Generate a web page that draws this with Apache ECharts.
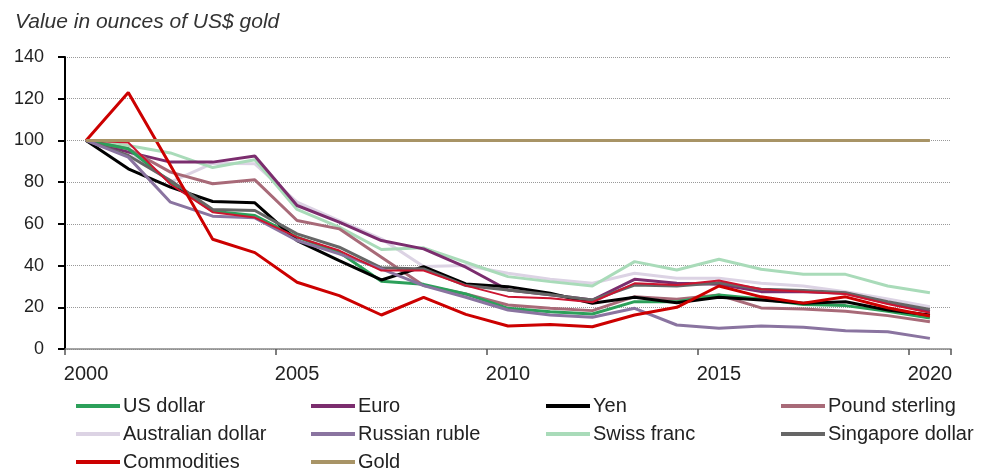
<!DOCTYPE html>
<html>
<head>
<meta charset="utf-8">
<script src="https://cdn.jsdelivr.net/npm/echarts@6/dist/echarts.min.js"></script>
<style>
  html, body { margin: 0; padding: 0; background: #fff; }
  #chart { width: 990px; height: 468px; }
</style>
</head>
<body>
<div id="chart"></div>
<script>
  var years = ['2000', '2001', '2002', '2003', '2004', '2005', '2006', '2007', '2008', '2009', '2010',
    '2011', '2012', '2013', '2014', '2015', '2016', '2017', '2018', '2019', '2020'];

  var usDollar    = [100, 96, 80, 66, 64, 53.6, 46.4, 32.5, 31, 26.4, 19.5, 17.9, 16.8, 22.7, 22.7, 25.9, 24, 21.3, 20.8, 18.1, 14.9];
  var euro        = [100, 94.4, 89.6, 89.6, 92.5, 68.8, 60.8, 52, 48, 39.2, 28.3, 26, 23.5, 33.4, 31.5, 31, 27.5, 27.5, 26.7, 22, 18];
  var yen         = [100, 86.4, 77.6, 70.7, 70.1, 52, 42.4, 33.1, 39.5, 31.2, 29.9, 26.7, 21.9, 24.8, 22.2, 24.8, 23.5, 21.9, 22.7, 18.7, 16.3];
  var pound       = [100, 96, 84.8, 79.2, 81.1, 61.6, 57.6, 44, 30.4, 26.4, 21.1, 19.5, 18.4, 25.1, 23.8, 25.9, 19.7, 19.2, 18.1, 16, 13.1];
  var audollar    = [100, 95, 80, 89, 88.8, 70.4, 61.6, 52.8, 39.5, 40, 36.3, 33.4, 31.5, 36.3, 33.9, 33.9, 31.5, 30.2, 27.5, 24, 20.3];
  var ruble       = [100, 92, 70.4, 63.7, 62.9, 52, 45.6, 38.4, 30.4, 24.8, 18.7, 16.3, 15.2, 19.5, 11.5, 9.9, 11, 10.4, 8.8, 8.3, 5.1];
  var swissFranc  = [100, 97.6, 94, 87, 90.7, 66.9, 58.4, 47.7, 48.5, 41.6, 34.7, 32.3, 30.2, 41.9, 37.9, 43, 38.2, 35.8, 35.8, 30.2, 27];
  var sgdollar    = [100, 92.8, 80.8, 66.9, 66.4, 55.2, 48.8, 38.9, 38.4, 30.4, 28.3, 26, 23.5, 30.7, 30.2, 31.8, 28.6, 28, 27, 22.7, 19];
  var commodities = [100, 123, 88, 52.6, 46.2, 32, 25.6, 16.3, 24.8, 16.6, 11, 11.7, 10.7, 16.3, 20, 30.2, 25, 22, 25, 19.8, 15.8];
  var gold        = [100, 100, 100, 100, 100, 100, 100, 100, 100, 100, 100, 100, 100, 100, 100, 100, 100, 100, 100, 100, 100];
  // thin red line in the bundle, not in the legend
  var otherRed    = [100, 99, 79, 65.6, 63, 53.6, 47.2, 37.6, 37.6, 30.4, 25.1, 24.3, 22.4, 31.5, 30.7, 32.8, 28.6, 27.5, 26.4, 21.6, 17.4];

  var legendNames = ['US dollar', 'Euro', 'Yen', 'Pound sterling', 'Australian dollar', 'Russian ruble',
    'Swiss franc', 'Singapore dollar', 'Commodities', 'Gold'];

  function line(name, data, color, width) {
    return {
      name: name,
      type: 'line',
      data: data,
      symbol: 'none',
      smooth: false,
      lineStyle: { color: color, width: width },
      itemStyle: { color: color }
    };
  }

  var chart = echarts.init(document.getElementById('chart'));
  var option = {
    animation: false,
    title: {
      text: 'Value in ounces of US$ gold',
      left: 10,
      top: 7,
      textStyle: {
        fontFamily: 'Liberation Sans, Arial, sans-serif',
        fontStyle: 'italic',
        fontWeight: 'normal',
        fontSize: 21,
        color: '#333'
      }
    },
    legend: {
      data: legendNames,
      left: 71,
      top: 387,
      width: 960,
      itemGap: 0,
      itemWidth: 44,
      itemHeight: 4,
      icon: 'rect',
      textStyle: {
        fontFamily: 'Liberation Sans, Arial, sans-serif',
        fontSize: 20,
        color: '#222',
        width: 188,
        lineHeight: 28,
        padding: [0, 0, 0, -2]
      }
    },
    grid: {
      left: 65,
      right: 39,
      top: 57,
      bottom: 119
    },
    xAxis: {
      type: 'category',
      data: years,
      boundaryGap: true,
      axisLine: { lineStyle: { color: '#888', width: 1.5 } },
      axisTick: { show: true, interval: 4, length: 6, lineStyle: { color: '#555', width: 1.5 } },
      axisLabel: {
        interval: 4,
        margin: 15,
        fontFamily: 'Liberation Sans, Arial, sans-serif',
        fontSize: 20,
        color: '#222'
      }
    },
    yAxis: {
      type: 'value',
      min: 0,
      max: 140,
      interval: 20,
      axisLine: { show: true, lineStyle: { color: '#000', width: 2 } },
      axisTick: { show: true, length: 7, lineStyle: { color: '#000', width: 2 } },
      axisLabel: {
        margin: 21,
        fontFamily: 'Liberation Sans, Arial, sans-serif',
        fontSize: 18,
        color: '#222'
      },
      splitLine: { lineStyle: { color: '#999', type: 'dotted', width: 1 } }
    },
    series: [
      line('Australian dollar', audollar, '#dcd3e4', 3),
      line('Swiss franc', swissFranc, '#a9dbb9', 3),
      line('Euro', euro, '#7b2d6e', 3),
      line('Pound sterling', pound, '#a86a78', 3),
      line('US dollar', usDollar, '#2ca05a', 3),
      line('Yen', yen, '#000000', 3),
      line('Singapore dollar', sgdollar, '#666666', 3),
      line('Russian ruble', ruble, '#8a74a0', 3),
      line('Other', otherRed, '#cc1530', 2),
      line('Commodities', commodities, '#cc0000', 3),
      line('Gold', gold, '#a89466', 3)
    ]
  };
  chart.setOption(option);
</script>
</body>
</html>
